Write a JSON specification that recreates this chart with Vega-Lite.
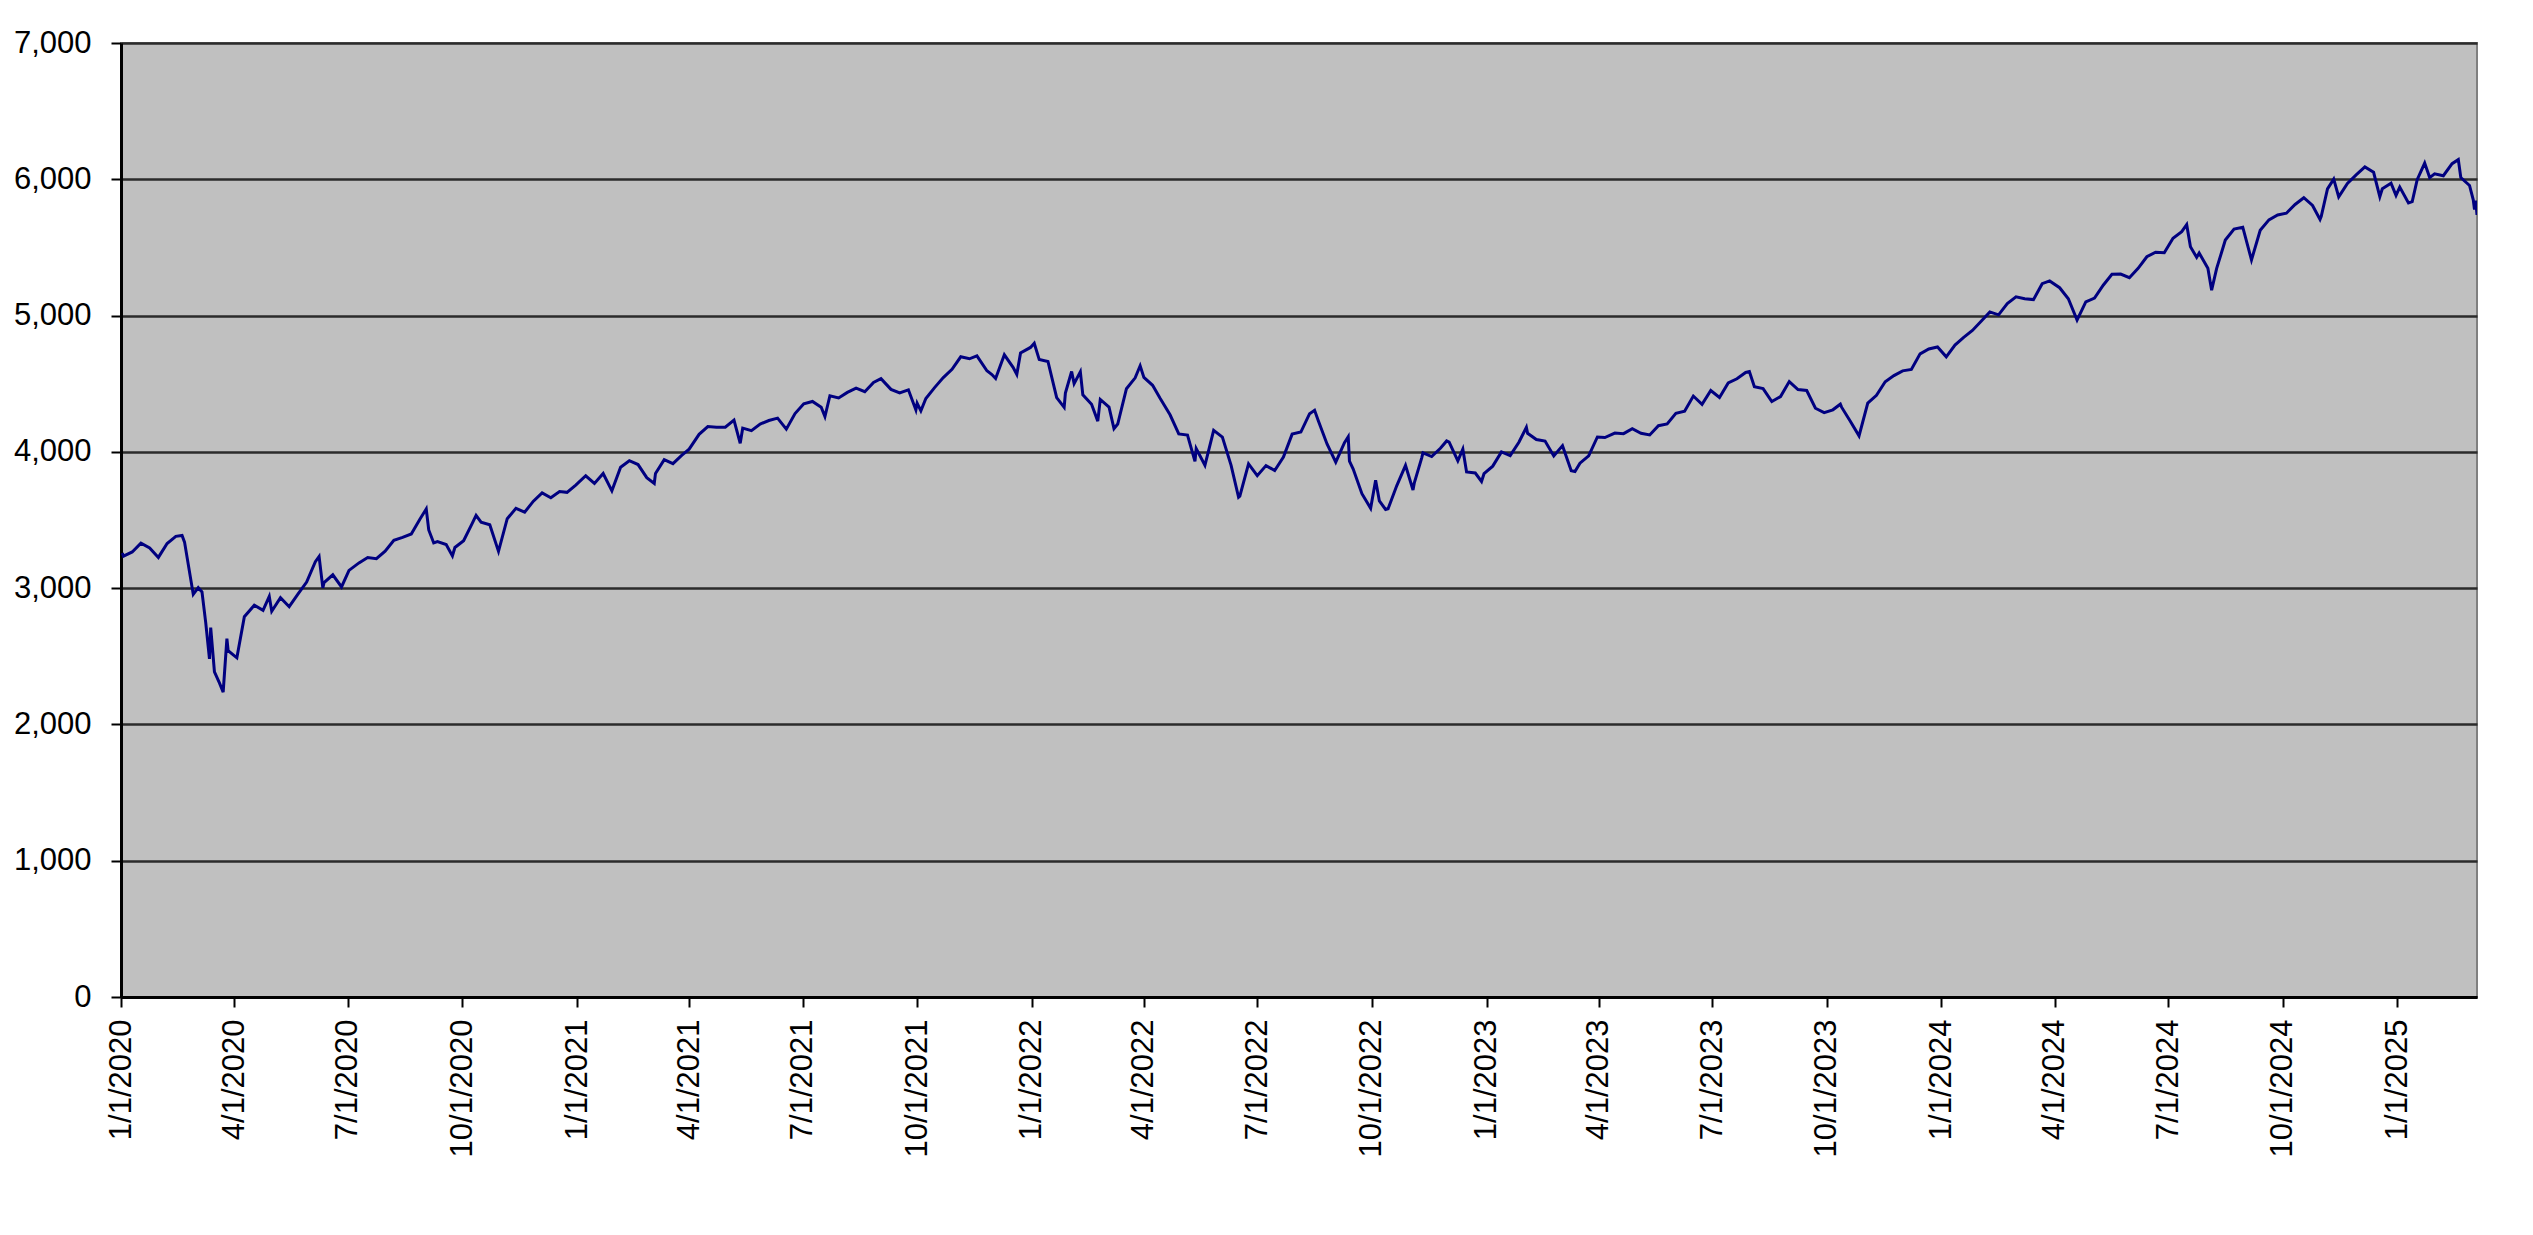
{
  "$schema": "https://vega.github.io/schema/vega-lite/v6.json",
  "width": 2356,
  "height": 954,
  "autosize": {"type": "none"},
  "padding": {"left": 121, "top": 43, "right": 56, "bottom": 238},
  "background": "white",
  "config": {
    "font": "Liberation Sans",
    "view": {"fill": "#c0c0c0", "stroke": "#808080", "strokeWidth": 2},
    "axis": {
      "labelFont": "Liberation Sans",
      "labelFontSize": 31,
      "labelColor": "#000000",
      "domainColor": "#000000",
      "domainWidth": 3,
      "tickColor": "#000000",
      "tickWidth": 2,
      "tickSize": 10,
      "title": null
    }
  },
  "data": {
    "values": [
      {"date": "2020-01-02", "close": 3257.85},
      {"date": "2020-01-03", "close": 3234.85},
      {"date": "2020-01-10", "close": 3265.35},
      {"date": "2020-01-17", "close": 3329.62},
      {"date": "2020-01-24", "close": 3295.47},
      {"date": "2020-01-31", "close": 3225.52},
      {"date": "2020-02-07", "close": 3327.71},
      {"date": "2020-02-14", "close": 3380.16},
      {"date": "2020-02-19", "close": 3386.15},
      {"date": "2020-02-21", "close": 3337.75},
      {"date": "2020-02-28", "close": 2954.22},
      {"date": "2020-03-03", "close": 3003.37},
      {"date": "2020-03-06", "close": 2972.37},
      {"date": "2020-03-09", "close": 2746.56},
      {"date": "2020-03-12", "close": 2480.64},
      {"date": "2020-03-13", "close": 2711.02},
      {"date": "2020-03-16", "close": 2386.13},
      {"date": "2020-03-20", "close": 2304.92},
      {"date": "2020-03-23", "close": 2237.40},
      {"date": "2020-03-26", "close": 2630.07},
      {"date": "2020-03-27", "close": 2541.47},
      {"date": "2020-04-03", "close": 2488.65},
      {"date": "2020-04-09", "close": 2789.82},
      {"date": "2020-04-17", "close": 2874.56},
      {"date": "2020-04-24", "close": 2836.74},
      {"date": "2020-04-29", "close": 2939.51},
      {"date": "2020-05-01", "close": 2830.71},
      {"date": "2020-05-08", "close": 2929.80},
      {"date": "2020-05-15", "close": 2863.70},
      {"date": "2020-05-22", "close": 2955.45},
      {"date": "2020-05-29", "close": 3044.31},
      {"date": "2020-06-05", "close": 3193.93},
      {"date": "2020-06-08", "close": 3232.39},
      {"date": "2020-06-11", "close": 3002.10},
      {"date": "2020-06-12", "close": 3041.31},
      {"date": "2020-06-19", "close": 3097.74},
      {"date": "2020-06-26", "close": 3009.05},
      {"date": "2020-07-02", "close": 3130.01},
      {"date": "2020-07-10", "close": 3185.04},
      {"date": "2020-07-17", "close": 3224.73},
      {"date": "2020-07-24", "close": 3215.63},
      {"date": "2020-07-31", "close": 3271.12},
      {"date": "2020-08-07", "close": 3351.28},
      {"date": "2020-08-14", "close": 3372.85},
      {"date": "2020-08-21", "close": 3397.16},
      {"date": "2020-08-28", "close": 3508.01},
      {"date": "2020-09-02", "close": 3580.84},
      {"date": "2020-09-04", "close": 3426.96},
      {"date": "2020-09-08", "close": 3331.84},
      {"date": "2020-09-11", "close": 3340.97},
      {"date": "2020-09-18", "close": 3319.47},
      {"date": "2020-09-23", "close": 3236.92},
      {"date": "2020-09-25", "close": 3298.46},
      {"date": "2020-10-02", "close": 3348.44},
      {"date": "2020-10-09", "close": 3477.13},
      {"date": "2020-10-12", "close": 3534.22},
      {"date": "2020-10-16", "close": 3483.81},
      {"date": "2020-10-23", "close": 3465.39},
      {"date": "2020-10-30", "close": 3269.96},
      {"date": "2020-11-06", "close": 3509.44},
      {"date": "2020-11-13", "close": 3585.15},
      {"date": "2020-11-20", "close": 3557.54},
      {"date": "2020-11-27", "close": 3638.35},
      {"date": "2020-12-04", "close": 3699.12},
      {"date": "2020-12-11", "close": 3663.46},
      {"date": "2020-12-18", "close": 3709.41},
      {"date": "2020-12-24", "close": 3703.06},
      {"date": "2020-12-31", "close": 3756.07},
      {"date": "2021-01-08", "close": 3824.68},
      {"date": "2021-01-15", "close": 3768.25},
      {"date": "2021-01-22", "close": 3841.47},
      {"date": "2021-01-29", "close": 3714.24},
      {"date": "2021-02-05", "close": 3886.83},
      {"date": "2021-02-12", "close": 3934.83},
      {"date": "2021-02-19", "close": 3906.71},
      {"date": "2021-02-26", "close": 3811.15},
      {"date": "2021-03-04", "close": 3768.47},
      {"date": "2021-03-05", "close": 3841.94},
      {"date": "2021-03-12", "close": 3943.34},
      {"date": "2021-03-19", "close": 3913.10},
      {"date": "2021-03-26", "close": 3974.54},
      {"date": "2021-04-01", "close": 4019.87},
      {"date": "2021-04-09", "close": 4128.80},
      {"date": "2021-04-16", "close": 4185.47},
      {"date": "2021-04-23", "close": 4180.17},
      {"date": "2021-04-30", "close": 4181.17},
      {"date": "2021-05-07", "close": 4232.60},
      {"date": "2021-05-12", "close": 4063.04},
      {"date": "2021-05-14", "close": 4173.85},
      {"date": "2021-05-21", "close": 4155.86},
      {"date": "2021-05-28", "close": 4204.11},
      {"date": "2021-06-04", "close": 4229.89},
      {"date": "2021-06-11", "close": 4247.44},
      {"date": "2021-06-18", "close": 4166.45},
      {"date": "2021-06-25", "close": 4280.70},
      {"date": "2021-07-02", "close": 4352.34},
      {"date": "2021-07-09", "close": 4369.55},
      {"date": "2021-07-16", "close": 4327.16},
      {"date": "2021-07-19", "close": 4258.49},
      {"date": "2021-07-23", "close": 4411.79},
      {"date": "2021-07-30", "close": 4395.26},
      {"date": "2021-08-06", "close": 4436.52},
      {"date": "2021-08-13", "close": 4468.00},
      {"date": "2021-08-20", "close": 4441.67},
      {"date": "2021-08-27", "close": 4509.37},
      {"date": "2021-09-02", "close": 4536.95},
      {"date": "2021-09-10", "close": 4458.58},
      {"date": "2021-09-17", "close": 4432.99},
      {"date": "2021-09-24", "close": 4455.48},
      {"date": "2021-09-30", "close": 4307.54},
      {"date": "2021-10-01", "close": 4357.04},
      {"date": "2021-10-04", "close": 4300.46},
      {"date": "2021-10-08", "close": 4391.34},
      {"date": "2021-10-15", "close": 4471.37},
      {"date": "2021-10-22", "close": 4544.90},
      {"date": "2021-10-29", "close": 4605.38},
      {"date": "2021-11-05", "close": 4697.53},
      {"date": "2021-11-12", "close": 4682.85},
      {"date": "2021-11-18", "close": 4704.54},
      {"date": "2021-11-26", "close": 4594.62},
      {"date": "2021-11-30", "close": 4567.00},
      {"date": "2021-12-03", "close": 4538.43},
      {"date": "2021-12-10", "close": 4712.02},
      {"date": "2021-12-17", "close": 4620.64},
      {"date": "2021-12-20", "close": 4568.02},
      {"date": "2021-12-23", "close": 4725.79},
      {"date": "2021-12-31", "close": 4766.18},
      {"date": "2022-01-03", "close": 4796.56},
      {"date": "2022-01-07", "close": 4677.03},
      {"date": "2022-01-14", "close": 4662.85},
      {"date": "2022-01-21", "close": 4397.94},
      {"date": "2022-01-27", "close": 4326.51},
      {"date": "2022-01-28", "close": 4431.85},
      {"date": "2022-02-02", "close": 4589.38},
      {"date": "2022-02-04", "close": 4500.53},
      {"date": "2022-02-09", "close": 4587.18},
      {"date": "2022-02-11", "close": 4418.64},
      {"date": "2022-02-18", "close": 4348.87},
      {"date": "2022-02-23", "close": 4225.50},
      {"date": "2022-02-25", "close": 4384.65},
      {"date": "2022-03-04", "close": 4328.87},
      {"date": "2022-03-08", "close": 4170.70},
      {"date": "2022-03-11", "close": 4204.31},
      {"date": "2022-03-18", "close": 4463.12},
      {"date": "2022-03-25", "close": 4543.06},
      {"date": "2022-03-29", "close": 4631.60},
      {"date": "2022-04-01", "close": 4545.86},
      {"date": "2022-04-08", "close": 4488.28},
      {"date": "2022-04-14", "close": 4392.59},
      {"date": "2022-04-22", "close": 4271.78},
      {"date": "2022-04-29", "close": 4131.93},
      {"date": "2022-05-06", "close": 4123.34},
      {"date": "2022-05-12", "close": 3930.08},
      {"date": "2022-05-13", "close": 4023.89},
      {"date": "2022-05-20", "close": 3901.36},
      {"date": "2022-05-27", "close": 4158.24},
      {"date": "2022-06-03", "close": 4108.54},
      {"date": "2022-06-10", "close": 3900.86},
      {"date": "2022-06-16", "close": 3666.77},
      {"date": "2022-06-17", "close": 3674.84},
      {"date": "2022-06-24", "close": 3911.74},
      {"date": "2022-07-01", "close": 3825.33},
      {"date": "2022-07-08", "close": 3899.38},
      {"date": "2022-07-15", "close": 3863.16},
      {"date": "2022-07-22", "close": 3961.63},
      {"date": "2022-07-29", "close": 4130.29},
      {"date": "2022-08-05", "close": 4145.19},
      {"date": "2022-08-12", "close": 4280.15},
      {"date": "2022-08-16", "close": 4305.20},
      {"date": "2022-08-19", "close": 4228.48},
      {"date": "2022-08-26", "close": 4057.66},
      {"date": "2022-09-02", "close": 3924.26},
      {"date": "2022-09-09", "close": 4067.36},
      {"date": "2022-09-12", "close": 4110.41},
      {"date": "2022-09-13", "close": 3932.69},
      {"date": "2022-09-16", "close": 3873.33},
      {"date": "2022-09-23", "close": 3693.23},
      {"date": "2022-09-30", "close": 3585.62},
      {"date": "2022-10-04", "close": 3790.93},
      {"date": "2022-10-07", "close": 3639.66},
      {"date": "2022-10-12", "close": 3577.03},
      {"date": "2022-10-14", "close": 3583.07},
      {"date": "2022-10-21", "close": 3752.75},
      {"date": "2022-10-28", "close": 3901.06},
      {"date": "2022-11-03", "close": 3719.89},
      {"date": "2022-11-04", "close": 3770.55},
      {"date": "2022-11-10", "close": 3956.37},
      {"date": "2022-11-11", "close": 3992.93},
      {"date": "2022-11-18", "close": 3965.34},
      {"date": "2022-11-25", "close": 4026.12},
      {"date": "2022-11-30", "close": 4080.11},
      {"date": "2022-12-02", "close": 4071.70},
      {"date": "2022-12-09", "close": 3934.38},
      {"date": "2022-12-13", "close": 4019.65},
      {"date": "2022-12-16", "close": 3852.36},
      {"date": "2022-12-23", "close": 3844.82},
      {"date": "2022-12-28", "close": 3783.22},
      {"date": "2022-12-30", "close": 3839.50},
      {"date": "2023-01-06", "close": 3895.08},
      {"date": "2023-01-13", "close": 3999.09},
      {"date": "2023-01-20", "close": 3972.61},
      {"date": "2023-01-27", "close": 4070.56},
      {"date": "2023-02-02", "close": 4179.76},
      {"date": "2023-02-03", "close": 4136.48},
      {"date": "2023-02-10", "close": 4090.46},
      {"date": "2023-02-17", "close": 4079.09},
      {"date": "2023-02-24", "close": 3970.04},
      {"date": "2023-03-03", "close": 4045.64},
      {"date": "2023-03-10", "close": 3861.59},
      {"date": "2023-03-13", "close": 3855.76},
      {"date": "2023-03-17", "close": 3916.64},
      {"date": "2023-03-24", "close": 3970.99},
      {"date": "2023-03-31", "close": 4109.31},
      {"date": "2023-04-06", "close": 4105.02},
      {"date": "2023-04-14", "close": 4137.64},
      {"date": "2023-04-21", "close": 4133.52},
      {"date": "2023-04-28", "close": 4169.48},
      {"date": "2023-05-05", "close": 4136.25},
      {"date": "2023-05-12", "close": 4124.08},
      {"date": "2023-05-19", "close": 4191.98},
      {"date": "2023-05-26", "close": 4205.45},
      {"date": "2023-06-02", "close": 4282.37},
      {"date": "2023-06-09", "close": 4298.86},
      {"date": "2023-06-16", "close": 4409.59},
      {"date": "2023-06-23", "close": 4348.33},
      {"date": "2023-06-30", "close": 4450.38},
      {"date": "2023-07-07", "close": 4398.95},
      {"date": "2023-07-14", "close": 4505.42},
      {"date": "2023-07-21", "close": 4536.34},
      {"date": "2023-07-28", "close": 4582.23},
      {"date": "2023-07-31", "close": 4588.96},
      {"date": "2023-08-04", "close": 4478.03},
      {"date": "2023-08-11", "close": 4464.05},
      {"date": "2023-08-18", "close": 4369.71},
      {"date": "2023-08-25", "close": 4405.71},
      {"date": "2023-09-01", "close": 4515.77},
      {"date": "2023-09-08", "close": 4457.49},
      {"date": "2023-09-15", "close": 4450.32},
      {"date": "2023-09-22", "close": 4320.06},
      {"date": "2023-09-29", "close": 4288.05},
      {"date": "2023-10-06", "close": 4308.50},
      {"date": "2023-10-12", "close": 4349.61},
      {"date": "2023-10-13", "close": 4327.78},
      {"date": "2023-10-20", "close": 4224.16},
      {"date": "2023-10-27", "close": 4117.37},
      {"date": "2023-11-03", "close": 4358.34},
      {"date": "2023-11-10", "close": 4415.24},
      {"date": "2023-11-17", "close": 4514.02},
      {"date": "2023-11-24", "close": 4559.34},
      {"date": "2023-12-01", "close": 4594.63},
      {"date": "2023-12-08", "close": 4604.37},
      {"date": "2023-12-15", "close": 4719.19},
      {"date": "2023-12-22", "close": 4754.63},
      {"date": "2023-12-29", "close": 4769.83},
      {"date": "2024-01-05", "close": 4697.24},
      {"date": "2024-01-12", "close": 4783.83},
      {"date": "2024-01-19", "close": 4839.81},
      {"date": "2024-01-26", "close": 4890.97},
      {"date": "2024-02-02", "close": 4958.61},
      {"date": "2024-02-09", "close": 5026.61},
      {"date": "2024-02-16", "close": 5005.57},
      {"date": "2024-02-23", "close": 5088.80},
      {"date": "2024-03-01", "close": 5137.08},
      {"date": "2024-03-08", "close": 5123.69},
      {"date": "2024-03-15", "close": 5117.09},
      {"date": "2024-03-22", "close": 5234.18},
      {"date": "2024-03-28", "close": 5254.35},
      {"date": "2024-04-05", "close": 5204.34},
      {"date": "2024-04-12", "close": 5123.41},
      {"date": "2024-04-19", "close": 4967.23},
      {"date": "2024-04-26", "close": 5099.96},
      {"date": "2024-05-03", "close": 5127.79},
      {"date": "2024-05-10", "close": 5222.68},
      {"date": "2024-05-17", "close": 5303.27},
      {"date": "2024-05-24", "close": 5304.72},
      {"date": "2024-05-31", "close": 5277.51},
      {"date": "2024-06-07", "close": 5346.99},
      {"date": "2024-06-14", "close": 5431.60},
      {"date": "2024-06-21", "close": 5464.62},
      {"date": "2024-06-28", "close": 5460.48},
      {"date": "2024-07-05", "close": 5567.19},
      {"date": "2024-07-12", "close": 5615.35},
      {"date": "2024-07-16", "close": 5667.20},
      {"date": "2024-07-19", "close": 5505.00},
      {"date": "2024-07-24", "close": 5427.13},
      {"date": "2024-07-26", "close": 5459.10},
      {"date": "2024-08-02", "close": 5346.56},
      {"date": "2024-08-05", "close": 5186.33},
      {"date": "2024-08-09", "close": 5344.16},
      {"date": "2024-08-16", "close": 5554.25},
      {"date": "2024-08-23", "close": 5634.61},
      {"date": "2024-08-30", "close": 5648.40},
      {"date": "2024-09-06", "close": 5408.42},
      {"date": "2024-09-13", "close": 5626.02},
      {"date": "2024-09-20", "close": 5702.55},
      {"date": "2024-09-27", "close": 5738.17},
      {"date": "2024-10-04", "close": 5751.07},
      {"date": "2024-10-11", "close": 5815.03},
      {"date": "2024-10-18", "close": 5864.67},
      {"date": "2024-10-25", "close": 5808.12},
      {"date": "2024-10-31", "close": 5705.45},
      {"date": "2024-11-01", "close": 5728.80},
      {"date": "2024-11-06", "close": 5929.04},
      {"date": "2024-11-11", "close": 6001.35},
      {"date": "2024-11-15", "close": 5870.62},
      {"date": "2024-11-22", "close": 5969.34},
      {"date": "2024-11-29", "close": 6032.38},
      {"date": "2024-12-06", "close": 6090.27},
      {"date": "2024-12-13", "close": 6051.09},
      {"date": "2024-12-18", "close": 5872.16},
      {"date": "2024-12-20", "close": 5930.85},
      {"date": "2024-12-27", "close": 5970.84},
      {"date": "2024-12-31", "close": 5881.63},
      {"date": "2025-01-03", "close": 5942.47},
      {"date": "2025-01-10", "close": 5827.04},
      {"date": "2025-01-13", "close": 5836.22},
      {"date": "2025-01-17", "close": 5996.66},
      {"date": "2025-01-23", "close": 6118.71},
      {"date": "2025-01-27", "close": 6012.28},
      {"date": "2025-01-31", "close": 6040.53},
      {"date": "2025-02-07", "close": 6025.99},
      {"date": "2025-02-14", "close": 6114.63},
      {"date": "2025-02-19", "close": 6144.15},
      {"date": "2025-02-21", "close": 6013.13},
      {"date": "2025-02-28", "close": 5954.50},
      {"date": "2025-03-03", "close": 5849.72},
      {"date": "2025-03-04", "close": 5778.15},
      {"date": "2025-03-05", "close": 5842.63},
      {"date": "2025-03-06", "close": 5738.52}
    ]
  },
  "mark": {"type": "line", "color": "#000080", "strokeWidth": 3, "clip": true},
  "encoding": {
    "x": {
      "field": "date",
      "type": "temporal",
      "scale": {
        "type": "utc",
        "domain": [
          {"year": 2020, "month": 1, "date": 1, "utc": true},
          {"year": 2025, "month": 3, "date": 6, "utc": true}
        ]
      },
      "axis": {
        "values": [
          {"year": 2020, "month": 1, "date": 1, "utc": true},
          {"year": 2020, "month": 4, "date": 1, "utc": true},
          {"year": 2020, "month": 7, "date": 1, "utc": true},
          {"year": 2020, "month": 10, "date": 1, "utc": true},
          {"year": 2021, "month": 1, "date": 1, "utc": true},
          {"year": 2021, "month": 4, "date": 1, "utc": true},
          {"year": 2021, "month": 7, "date": 1, "utc": true},
          {"year": 2021, "month": 10, "date": 1, "utc": true},
          {"year": 2022, "month": 1, "date": 1, "utc": true},
          {"year": 2022, "month": 4, "date": 1, "utc": true},
          {"year": 2022, "month": 7, "date": 1, "utc": true},
          {"year": 2022, "month": 10, "date": 1, "utc": true},
          {"year": 2023, "month": 1, "date": 1, "utc": true},
          {"year": 2023, "month": 4, "date": 1, "utc": true},
          {"year": 2023, "month": 7, "date": 1, "utc": true},
          {"year": 2023, "month": 10, "date": 1, "utc": true},
          {"year": 2024, "month": 1, "date": 1, "utc": true},
          {"year": 2024, "month": 4, "date": 1, "utc": true},
          {"year": 2024, "month": 7, "date": 1, "utc": true},
          {"year": 2024, "month": 10, "date": 1, "utc": true},
          {"year": 2025, "month": 1, "date": 1, "utc": true}
        ],
        "labelExpr": "utcFormat(datum.value, '%-m/%-d/%Y')",
        "labelAngle": -90,
        "labelAlign": "right",
        "labelBaseline": "middle",
        "labelPadding": 12,
        "labelOverlap": false,
        "labelFlush": false,
        "grid": false
      }
    },
    "y": {
      "field": "close",
      "type": "quantitative",
      "scale": {"domain": [0, 7000], "nice": false, "zero": true},
      "axis": {
        "values": [0, 1000, 2000, 3000, 4000, 5000, 6000, 7000],
        "format": ",d",
        "labelPadding": 20,
        "grid": true,
        "gridColor": "#2b2b2b",
        "gridWidth": 2.5
      }
    }
  }
}
